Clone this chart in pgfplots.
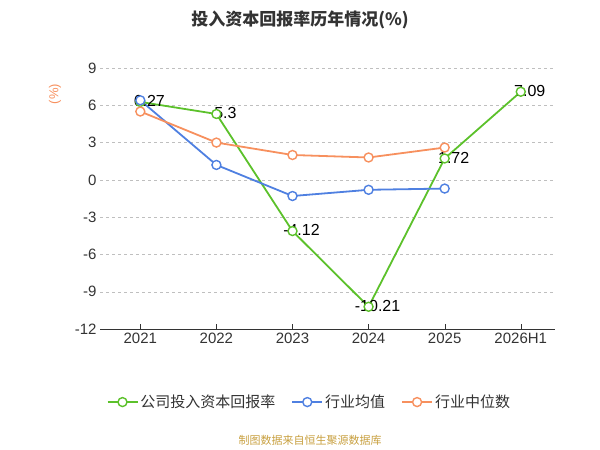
\documentclass[border=0pt]{standalone}
\usepackage{pgfplots}
\pgfplotsset{compat=1.18}
\usepackage{fontspec}
\setmainfont{Liberation Sans}
\newfontfamily\cjk{Noto Sans CJK SC}
\definecolor{cg}{HTML}{5CC12B}
\definecolor{cb}{HTML}{4F80E1}
\definecolor{co}{HTML}{F7905E}
\definecolor{tk}{HTML}{333333}
\begin{document}
\begin{tikzpicture}[x=1pt,y=1pt]
\path (0,0) rectangle (600,450);
\node[font=\cjk\bfseries\fontsize{17}{20}\selectfont, text=tk] at (300,430) {投入资本回报率历年情况(\%)};
\node[font=\fontsize{13}{15}\selectfont, text=co, rotate=90] at (55,356) {(\%)};
\node[font=\cjk\fontsize{11}{13}\selectfont, text={rgb,255:red,200;green,160;blue,64}] at (310,10) {制图数据来自恒生聚源数据库};
\begin{axis}[at={(100pt,121pt)}, anchor=south west, scale only axis,
 width=455pt, height=261pt,
 xmin=-0.53, xmax=5.45, ymin=-12, ymax=9,
 ytick={-12,-9,-6,-3,0,3,6,9},
 xtick={0,1,2,3,4,5}, xticklabels={2021,2022,2023,2024,2025,2026H1},
 axis y line*=left, axis x line*=bottom,
 y axis line style={draw=none}, x axis line style={draw=tk},
 major tick length=5pt, ytick style={draw=none}, xtick style={draw=tk},
 tick label style={font=\fontsize{15}{17}\selectfont, text=tk},
 /pgf/number format/assume math mode=true,
 ymajorgrids, grid style={dashed, gray!50},
 every axis plot/.append style={line width=1.8pt, mark=*, mark size=4.5pt, mark options={fill=white, line width=1.4pt}},
 legend style={at={(0.46,-0.28)}, anchor=center, draw=none, legend columns=3,
   font=\cjk\fontsize{15}{17}\selectfont, text=tk, /tikz/every even column/.append style={column sep=14pt}},
 legend image code/.code={\draw[#1] (0pt,0pt) -- (30pt,0pt); \draw[#1,mark repeat=1] plot coordinates {(15pt,0pt)};},
 legend cell align=left,
 clip=false]
\addplot[cg] coordinates {(0,6.27)(1,5.3)(2,-4.12)(3,-10.21)(4,1.72)(5,7.09)};
\addlegendentry{公司投入资本回报率}
\addplot[cb] coordinates {(0,6.4)(1,1.2)(2,-1.3)(3,-0.8)(4,-0.7)};
\addlegendentry{行业均值}
\addplot[co] coordinates {(0,5.5)(1,3.0)(2,2.0)(3,1.8)(4,2.6)};
\addlegendentry{行业中位数}
\foreach \x/\y/\l in {0/6.27/6.27,1/5.3/5.3,2/-4.12/-4.12,3/-10.21/-10.21,4/1.72/1.72,5/7.09/7.09}{
 \edef\tmp{\noexpand\node[font=\noexpand\fontsize{16}{18}\noexpand\selectfont, xshift=9pt, yshift=1pt] at (axis cs:\x,\y) {\l};}\tmp
}
\end{axis}
\end{tikzpicture}
\end{document}
